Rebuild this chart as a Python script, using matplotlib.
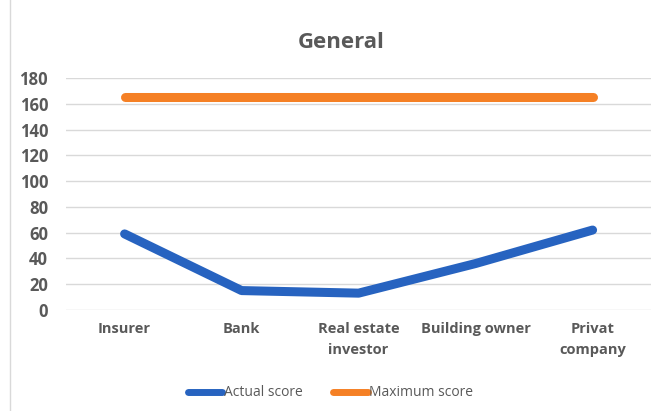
import matplotlib.pyplot as plt

# categories and scores
categories = ['Insurer', 'Bank', 'Real estate\ninvestor', 'Building owner', 'Privat\ncompany']
actual = [59, 15, 13, 36, 62]
maximum = [165, 165, 165, 165, 165]

plt.rcParams['font.family'] = ['Open Sans', 'DejaVu Sans']
grey = '#595959'

fig = plt.figure(figsize=(6.61, 4.11), dpi=100)
ax = fig.add_axes([0.10, 0.246, 0.885, 0.564])

x = range(len(categories))
ax.plot(x, actual, color='#2763C0', lw=6.5, solid_capstyle='round', solid_joinstyle='round', label='Actual score')
ax.plot(x, maximum, color='#F58025', lw=6.5, solid_capstyle='round', label='Maximum score')

ax.set_xlim(-0.5, len(categories) - 0.5)
ax.set_ylim(0, 180)
ax.set_yticks(range(0, 181, 20))
ax.set_xticks(list(x))
ax.set_xticklabels(categories, fontsize=10.5, fontweight='bold', color=grey, linespacing=1.6)
for lab in ax.get_yticklabels():
    lab.set_fontsize(12)
    lab.set_fontweight('bold')
    lab.set_color(grey)
ax.tick_params(axis='y', length=0, pad=13)
ax.tick_params(axis='x', length=0, pad=9)
ax.grid(axis='y', color='#d9d9d9', lw=1)
ax.set_axisbelow(True)
for s in ax.spines.values():
    s.set_visible(False)

fig.text(0.516, 0.897, 'General', ha='center', va='center', fontsize=16, fontweight='bold', color=grey)

leg = fig.legend(loc='center', bbox_to_anchor=(0.5, 0.044), ncol=2, frameon=False,
                 fontsize=10, handlelength=2.5, handletextpad=0.1, columnspacing=2.2)
for t in leg.get_texts():
    t.set_color(grey)
for h in leg.get_lines():
    h.set_linewidth(5)

# light frame around the chart area
fig.patches.append(plt.Rectangle((0.015, -0.01), 0.99, 1.02, transform=fig.transFigure,
                                 fill=False, edgecolor='#d9d9d9', lw=1))

fig.savefig('out.png', dpi=100)
